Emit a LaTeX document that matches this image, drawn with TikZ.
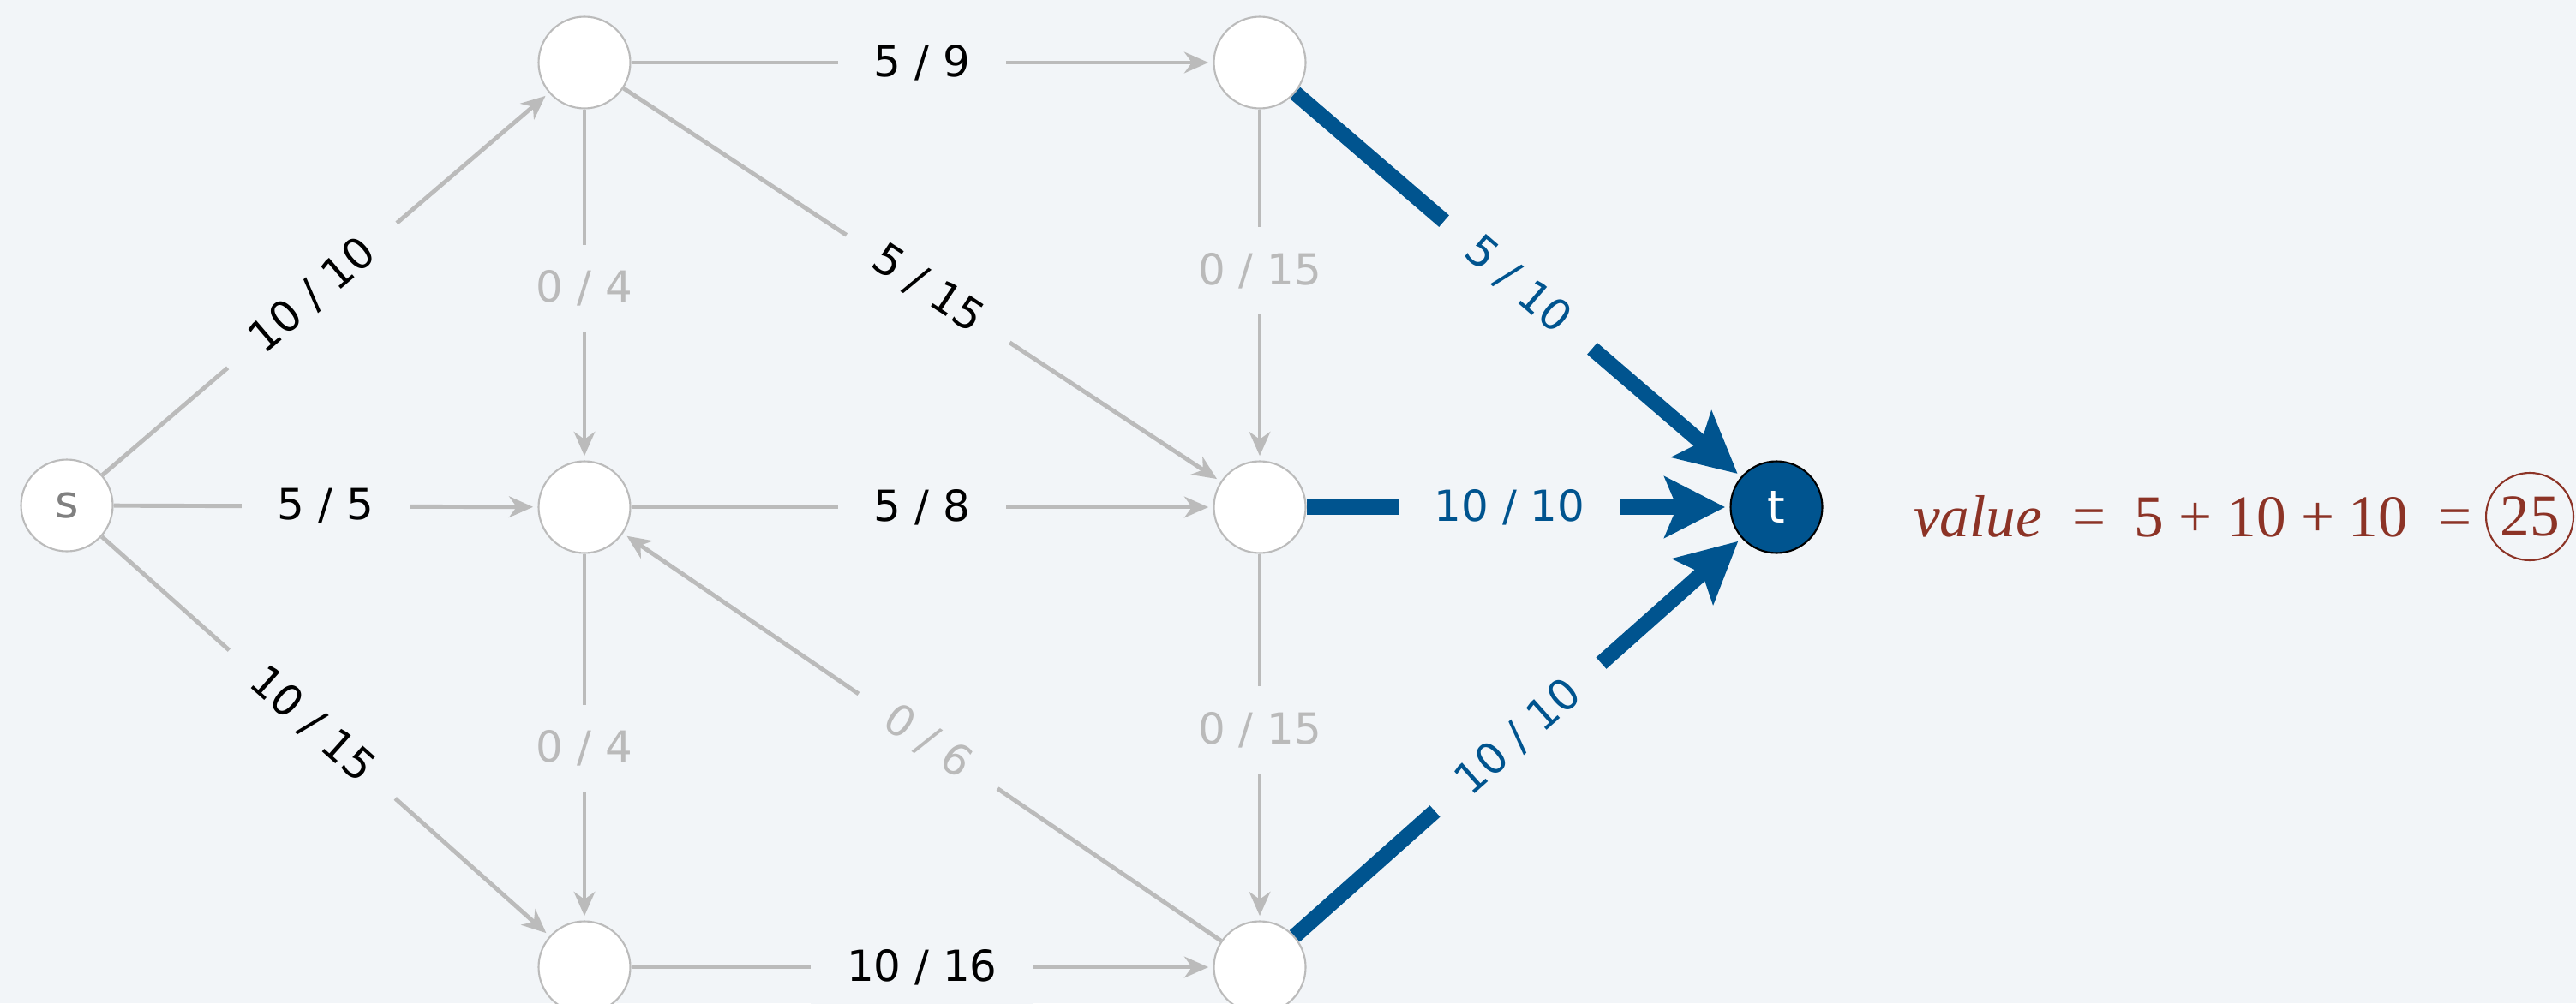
\documentclass[tikz,border=0pt]{standalone}
\usepackage{fontspec}
\setmainfont{DejaVu Sans}
\newfontfamily\valuefont{Liberation Serif}
\usetikzlibrary{positioning,arrows.meta}
\definecolor{canvas}{HTML}{F2F5F8}
\definecolor{edgegray}{HTML}{BBBBBB}
\definecolor{zerogray}{HTML}{BABABA}
\definecolor{flowblue}{HTML}{00548F}
\definecolor{valuered}{HTML}{8C3326}

\begin{document}
\begin{tikzpicture}[
  vertex/.style={
    circle, draw=edgegray, fill=white, line width=0.6pt,
    minimum size=1.07cm, inner sep=0pt, font=\fontsize{15}{18}\selectfont,
  },
  flowedge/.style={
    draw=edgegray, line width=1.4pt, shorten >=1.5pt,
    -{Stealth[length=8pt, width=7pt, inset=2.5pt]},
  },
  fulledge/.style={
    draw=flowblue, line width=5.1pt, shorten >=1.5pt,
    -{Stealth[length=20pt, width=20pt, inset=4pt]},
  },
  flowlbl/.style={
    fill=canvas, inner xsep=0.42cm, inner ysep=0.3cm,
    font=\fontsize{14.2}{17}\selectfont,
  },
  zerolbl/.style={flowlbl, text=zerogray},
  fulllbl/.style={flowlbl, text=flowblue},
]

\fill[canvas] (0, 0) rectangle (30.06, 11.71);
\useasboundingbox (0, 0) rectangle (30.06, 11.71);

\node[vertex, text=gray] (s) at (0.78, 5.81) {s};
\node[vertex] (ul) at (6.82, 10.98) {};
\node[vertex] (ml) at (6.82, 5.79) {};
\node[vertex] (ll) at (6.82, 0.42) {};
\node[vertex] (ur) at (14.70, 10.98) {};
\node[vertex] (mr) at (14.70, 5.79) {};
\node[vertex] (lr) at (14.70, 0.42) {};
\node[vertex, fill=flowblue, draw=black, text=white] (t) at (20.73, 5.79) {t};

\draw[flowedge] (s) -- node[flowlbl, sloped, pos=0.47] {10 / 10} (ul);
\draw[flowedge] (s) -- node[flowlbl] {5 / 5} (ml);
\draw[flowedge] (s) -- node[flowlbl, sloped, pos=0.47] {10 / 15} (ll);
\draw[flowedge] (ul) -- node[flowlbl] {5 / 9} (ur);
\draw[flowedge] (ul) -- node[zerolbl, pos=0.51] {0 / 4} (ml);
\draw[flowedge] (ul) -- node[flowlbl, sloped, pos=0.51] {5 / 15} (mr);
\draw[flowedge] (ml) -- node[flowlbl] {5 / 8} (mr);
\draw[flowedge] (ml) -- node[zerolbl, pos=0.53] {0 / 4} (ll);
\draw[flowedge] (lr) -- node[zerolbl, sloped, pos=0.49] {0 / 6} (ml);
\draw[flowedge] (ll) -- node[flowlbl] {10 / 16} (lr);
\draw[flowedge] (ur) -- node[zerolbl, pos=0.46] {0 / 15} (mr);
\draw[flowedge] (mr) -- node[zerolbl, pos=0.48] {0 / 15} (lr);

\draw[fulledge] (ur) -- node[fulllbl, sloped] {5 / 10} (t);
\draw[fulledge] (mr) -- node[fulllbl, pos=0.48] {10 / 10} (t);
\draw[fulledge] (lr) -- node[fulllbl, sloped] {10 / 10} (t);

\node[circle, draw=valuered, line width=0.6pt, minimum size=1.02cm, inner sep=0pt,
  text=valuered, font=\valuefont\fontsize{19.7}{24}\selectfont] (total) at (29.52, 5.68) {25};
\node[left=0.15cm of total, inner sep=0pt, text=valuered,
  font=\valuefont\fontsize{19.7}{24}\selectfont] (value)
  {\textit{value}\hspace{0.35cm}=\hspace{0.33cm}5\hspace{0.18cm}+\hspace{0.17cm}10\hspace{0.18cm}+\hspace{0.16cm}10\hspace{0.35cm}=};

\end{tikzpicture}
\end{document}
